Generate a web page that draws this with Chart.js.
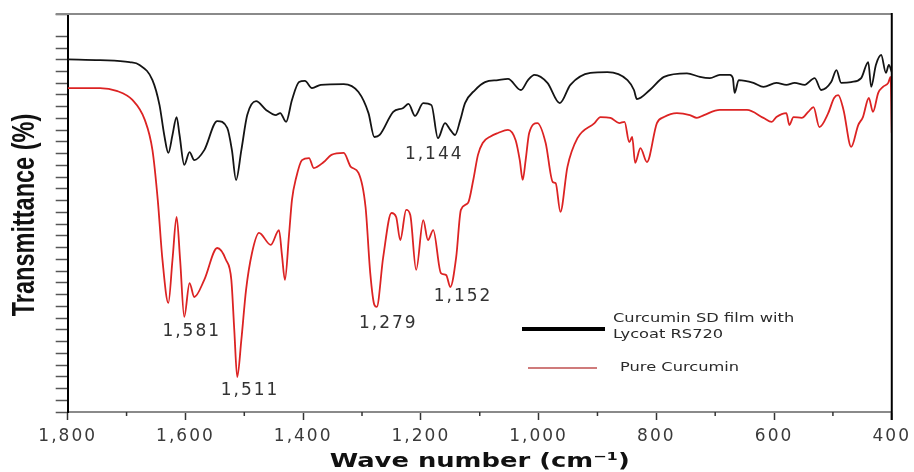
<!DOCTYPE html>
<html>
<head>
<meta charset="utf-8">
<script src="https://cdn.jsdelivr.net/npm/chart.js@4/dist/chart.umd.min.js"></script>
<style>
  html, body { margin: 0; padding: 0; background: #fff; }
  #wrap { width: 914px; height: 472px; position: relative; }
</style>
</head>
<body>
<div id="wrap"><canvas id="ftir"></canvas></div>
<script>
// FTIR spectra, wave number (cm-1) vs transmittance (arbitrary %)
const filmWave = [1800, 1745, 1695, 1678, 1656, 1644, 1636, 1629, 1622, 1615, 1610, 1602, 1593, 1585, 1568,
  1546, 1529, 1521, 1514, 1505, 1495, 1480, 1463, 1446, 1439, 1429, 1419, 1407, 1397, 1385, 1370, 1331,
  1306, 1289, 1279, 1270, 1247, 1230, 1221, 1210, 1196, 1182, 1171, 1159, 1150, 1142, 1133, 1125, 1108,
  1091, 1069, 1052, 1030, 1018, 1007, 985, 964, 946, 912, 883, 849, 838, 833, 811, 787, 748, 726, 709,
  692, 675, 670, 667, 660, 635, 618, 596, 579, 565, 548, 531, 520, 503, 494, 486, 469, 452, 440, 435,
  427, 418, 410, 405, 400];
const filmT = [88.6, 88.4, 87.9, 87.2, 83.4, 77.1, 69.6, 65.1, 69.6, 74.1, 69.6, 62.1, 65.3, 63.3, 65.8,
  73.1, 71.4, 65.8, 58.3, 65.8, 74.6, 78.1, 75.9, 74.6, 75.1, 72.9, 78.4, 82.9, 83.2, 81.4, 82.2, 82.4,
  80.4, 75.1, 69.1, 69.6, 75.4, 76.4, 77.4, 74.4, 77.6, 77.1, 68.8, 72.6, 70.9, 69.6, 73.4, 77.6, 80.9,
  82.9, 83.4, 83.7, 80.9, 83.4, 84.7, 82.7, 77.6, 82.2, 85.2, 85.4, 83.4, 80.9, 78.6, 80.9, 84.2, 85.1,
  84.2, 83.9, 84.7, 84.7, 83.9, 80.2, 83.4, 82.7, 81.7, 82.7, 82.2, 82.7, 82.2, 83.9, 80.9, 82.9, 85.9,
  82.7, 82.9, 83.9, 87.9, 81.7, 87.2, 89.7, 85.2, 87.2, 85.4];

const pureWave = [1800, 1745, 1717, 1690, 1669, 1656, 1647, 1639, 1629, 1622, 1615, 1609, 1602, 1593, 1585,
  1568, 1546, 1531, 1522, 1517, 1512, 1505, 1497, 1487, 1475, 1455, 1441, 1436, 1431, 1424, 1419, 1412,
  1402, 1390, 1382, 1365, 1352, 1331, 1319, 1306, 1294, 1286, 1279, 1275, 1264, 1250, 1242, 1235, 1225,
  1218, 1208, 1196, 1188, 1179, 1166, 1157, 1150, 1140, 1132, 1120, 1111, 1103, 1095, 1081, 1069, 1052,
  1039, 1032, 1027, 1022, 1016, 1002, 988, 976, 971, 963, 951, 934, 905, 895, 878, 863, 854, 846, 841,
  836, 827, 816, 799, 787, 765, 743, 731, 719, 692, 646, 618, 604, 596, 579, 574, 567, 553, 542, 533,
  523, 508, 498, 491, 482, 469, 457, 449, 439, 432, 423, 415, 406, 402, 400];
const pureT = [81.4, 81.4, 80.7, 78.4, 73.4, 65.8, 53.3, 38.2, 27.4, 38.2, 49.0, 38.2, 23.9, 32.4, 28.9,
  33.2, 41.2, 38.2, 33.2, 20.6, 8.8, 18.1, 30.7, 39.9, 45.0, 42.0, 45.7, 39.4, 33.2, 44.5, 53.3, 58.8,
  63.3, 63.8, 61.3, 62.8, 64.6, 65.1, 61.6, 60.1, 51.5, 34.9, 26.9, 26.4, 38.9, 50.0, 49.0, 43.2, 50.8,
  49.5, 35.7, 48.2, 43.2, 45.7, 34.9, 34.4, 31.4, 38.9, 50.8, 52.5, 58.3, 64.6, 67.6, 69.3, 70.1, 70.9,
  68.3, 63.3, 58.3, 63.3, 70.1, 72.6, 67.6, 57.8, 57.5, 50.3, 61.6, 68.8, 72.6, 74.1, 73.9, 72.6, 72.9, 67.8, 69.1,
  62.6, 66.3, 62.8, 72.6, 74.1, 75.1, 74.6, 73.9, 74.6, 75.9, 75.9, 73.9, 72.9, 74.1, 75.1, 72.1, 74.1, 73.9, 75.4, 76.6,
  71.6, 75.1, 78.9, 79.6, 75.9, 66.6, 72.1, 74.1, 78.9, 75.4, 80.2, 81.7, 82.7, 84.2, 70.1];

// peak labels, placed in data coordinates
const peakText = ['1,144', '1,581', '1,511', '1,279', '1,152'];
const peakWave = [1179, 1591, 1492, 1257, 1130];
const peakT = [64.6, 20.1, 5.3, 22.1, 28.9];

const seriesNames = ['Curcumin SD film with', 'Lycoat RS720', 'Pure Curcumin'];

function toPoints(xs, ys) {
  return xs.map((x, i) => ({ x: x, y: ys[i] }));
}

function wideText(ctx, text, x, y, font, color, align, sx) {
  ctx.save();
  ctx.font = font;
  ctx.fillStyle = color;
  ctx.textAlign = align;
  ctx.textBaseline = 'middle';
  ctx.translate(x, y);
  ctx.scale(sx, 1);
  ctx.fillText(text, 0, 0);
  ctx.restore();
}

const decorations = {
  id: 'decorations',
  beforeDraw(chart) {
    // tick labels are set wide, like the rest of the lettering
    chart.ctx.letterSpacing = '2px';
  },
  afterDraw(chart) {
    const ctx = chart.ctx;
    const a = chart.chartArea;
    const xs = chart.scales.x;
    const ys = chart.scales.y;
    ctx.letterSpacing = '0px';

    ctx.save();
    // frame: grey top, black right
    ctx.strokeStyle = '#8a8a8a';
    ctx.lineWidth = 2;
    ctx.beginPath();
    ctx.moveTo(a.left - 12, a.top);
    ctx.lineTo(a.right, a.top);
    ctx.stroke();
    ctx.strokeStyle = '#000';
    ctx.beginPath();
    ctx.moveTo(a.right, a.top - 1);
    ctx.lineTo(a.right, a.bottom + 8);
    ctx.stroke();

    // minor ticks on the wave number axis
    ctx.strokeStyle = '#333';
    ctx.lineWidth = 1.5;
    for (let w = 500; w < 1800; w += 200) {
      const px = xs.getPixelForValue(w);
      ctx.beginPath();
      ctx.moveTo(px, a.bottom);
      ctx.lineTo(px, a.bottom + 4);
      ctx.stroke();
    }
    ctx.restore();

    // peak positions
    ctx.save();
    ctx.letterSpacing = '2px';
    peakText.forEach((t, i) => {
      wideText(ctx, t, xs.getPixelForValue(peakWave[i]) + 1, ys.getPixelForValue(peakT[i]),
        '17px "DejaVu Sans"', '#333', 'center', 1);
    });
    ctx.restore();

    // legend
    ctx.save();
    ctx.lineCap = 'butt';
    ctx.strokeStyle = '#000';
    ctx.lineWidth = 4;
    ctx.beginPath();
    ctx.moveTo(522, 329);
    ctx.lineTo(605, 329);
    ctx.stroke();
    ctx.strokeStyle = '#cf7b7b';
    ctx.lineWidth = 2;
    ctx.beginPath();
    ctx.moveTo(528, 368);
    ctx.lineTo(597, 368);
    ctx.stroke();
    ctx.restore();
    wideText(ctx, seriesNames[0], 613, 319, '12.5px "DejaVu Sans"', '#2a2a2a', 'left', 1.3);
    wideText(ctx, seriesNames[1], 613, 335, '12.5px "DejaVu Sans"', '#2a2a2a', 'left', 1.3);
    wideText(ctx, seriesNames[2], 620, 368, '12.5px "DejaVu Sans"', '#2a2a2a', 'left', 1.3);

    // axis titles
    wideText(ctx, 'Wave number (cm\u207B\u00B9)', (a.left + a.right) / 2, 462,
      'bold 20px "DejaVu Sans"', '#111', 'center', 1.29);
    ctx.save();
    ctx.font = 'bold 23.5px "Liberation Sans"';
    ctx.fillStyle = '#111';
    ctx.textAlign = 'center';
    ctx.textBaseline = 'middle';
    ctx.translate(26, 215);
    ctx.scale(1.3, 1);
    ctx.rotate(-Math.PI / 2);
    ctx.fillText('Transmittance (%)', 0, 0);
    ctx.restore();
  }
};

new Chart(document.getElementById('ftir').getContext('2d'), {
  type: 'line',
  data: {
    datasets: [
      {
        label: seriesNames[0] + ' ' + seriesNames[1],
        data: toPoints(filmWave, filmT),
        borderColor: '#141414',
        borderWidth: 1.8,
        pointRadius: 0,
        cubicInterpolationMode: 'monotone',
        fill: false
      },
      {
        label: seriesNames[2],
        data: toPoints(pureWave, pureT),
        borderColor: '#dc2323',
        borderWidth: 1.8,
        pointRadius: 0,
        cubicInterpolationMode: 'monotone',
        fill: false
      }
    ]
  },
  options: {
    responsive: true,
    maintainAspectRatio: false,
    animation: false,
    layout: { padding: { top: 14, right: 18, left: 55.7, bottom: 0 } },
    plugins: {
      legend: { display: false },
      tooltip: { enabled: false }
    },
    scales: {
      x: {
        type: 'linear',
        reverse: true,
        min: 400,
        max: 1800,
        afterFit: s => { s.height = 60; },
        border: { display: true, color: '#8a8a8a', width: 2 },
        grid: { drawOnChartArea: false, drawTicks: true, tickLength: 8, tickColor: '#333', tickWidth: 1.5 },
        ticks: {
          stepSize: 200,
          maxRotation: 0,
          autoSkip: false,
          padding: 6,
          color: '#3a3a3a',
          font: { family: 'DejaVu Sans', size: 17 }
        }
      },
      y: {
        min: 0,
        max: 100,
        afterFit: s => { s.width = 12; },
        border: { display: true, color: '#000', width: 2 },
        grid: { drawOnChartArea: false, drawTicks: true, tickLength: 12, tickColor: '#555', tickWidth: 1.5 },
        ticks: { display: false, stepSize: 2.95 }
      }
    }
  },
  plugins: [decorations]
});
</script>
</body>
</html>
